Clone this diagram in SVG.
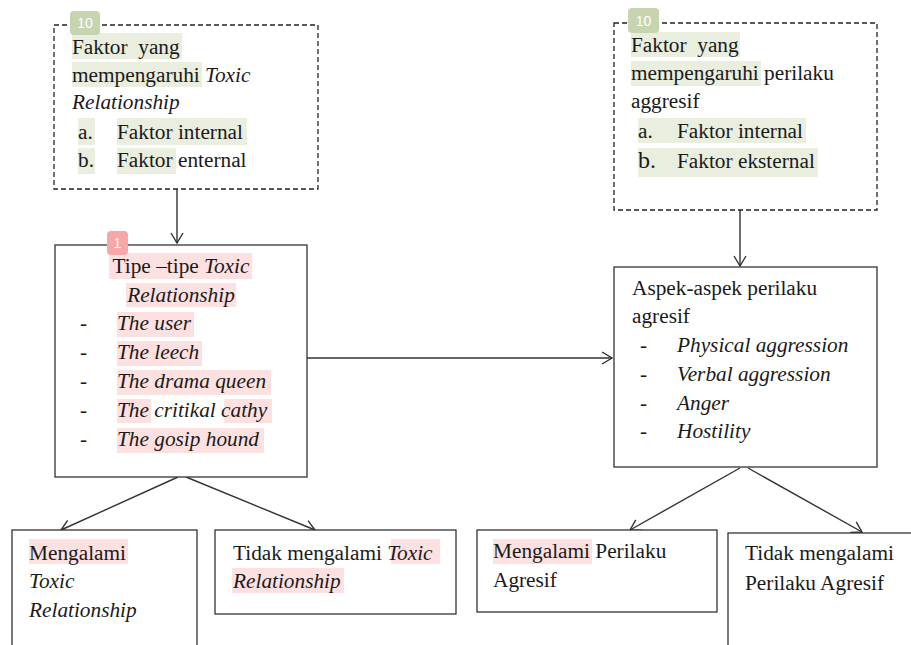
<svg xmlns="http://www.w3.org/2000/svg" width="911" height="645" viewBox="0 0 911 645">
<style>
.box{fill:#fff;stroke:#333;stroke-width:1.3}
.dash{fill:#fff;stroke:#222;stroke-width:1.3;stroke-dasharray:5 3}
.t{font-family:'Liberation Serif','Times New Roman',serif;font-size:21.3px;fill:#1a1a1a;white-space:pre}
.i{font-style:italic}
.g{fill:#e9eedf}
.p{fill:#fde1e1}
.bg{fill:#c6d5b0}
.br{fill:#f7a7a7}
.bt{font-family:'Liberation Sans',Arial,sans-serif;font-size:14px;fill:#fff}
.c{fill:none;stroke:#333;stroke-width:1.4}
</style>
<defs>
<marker id="ah" viewBox="0 0 12 14" refX="11" refY="7" markerWidth="12" markerHeight="14" markerUnits="userSpaceOnUse" orient="auto">
<path d="M1,1 L11,7 L1,13" fill="none" stroke="#333" stroke-width="1.4"/>
</marker>
</defs>
<rect width="911" height="645" fill="#fff"/>

<g id="connectors">
<line class="c" x1="177" y1="189" x2="177" y2="243" marker-end="url(#ah)"/>
<line class="c" x1="740" y1="210" x2="740" y2="266" marker-end="url(#ah)"/>
<line class="c" x1="307" y1="358" x2="612" y2="358" marker-end="url(#ah)"/>
<line class="c" x1="178" y1="477" x2="61" y2="530" marker-end="url(#ah)"/>
<line class="c" x1="186" y1="477" x2="315" y2="530" marker-end="url(#ah)"/>
<line class="c" x1="740" y1="468" x2="630" y2="530" marker-end="url(#ah)"/>
<line class="c" x1="748" y1="468" x2="862" y2="532" marker-end="url(#ah)"/>
</g>

<g id="faktor-toxic">
<rect class="dash" x="54" y="25" width="264" height="164"/>
<rect class="g" x="72" y="33" width="110" height="26"/>
<rect class="g" x="72" y="62" width="130" height="25"/>
<rect class="g" x="78" y="118" width="17" height="27"/>
<rect class="g" x="117" y="118" width="130" height="27"/>
<rect class="g" x="78" y="148" width="17" height="26"/>
<rect class="g" x="117" y="148" width="59" height="26"/>
<text class="t" x="72" y="54">Faktor  yang</text>
<text class="t" x="72" y="82">mempengaruhi <tspan class="i">Toxic</tspan></text>
<text class="t i" x="72" y="109">Relationship</text>
<text class="t" x="78" y="139">a.</text>
<text class="t" x="117" y="139">Faktor internal</text>
<text class="t" x="78" y="167">b.</text>
<text class="t" x="117" y="167">Faktor enternal</text>
<rect class="bg" x="70" y="11" width="30" height="24" rx="4"/>
<text class="bt" x="85" y="28" text-anchor="middle">10</text>
</g>

<g id="faktor-agresif">
<rect class="dash" x="614" y="23" width="263" height="187"/>
<rect class="g" x="631" y="32" width="109" height="25"/>
<rect class="g" x="631" y="61" width="130" height="25"/>
<rect class="g" x="638" y="118" width="168" height="25"/>
<rect class="g" x="638" y="148" width="180" height="29"/>
<text class="t" x="631" y="52">Faktor  yang</text>
<text class="t" x="631" y="80">mempengaruhi perilaku</text>
<text class="t" x="631" y="108">aggresif</text>
<text class="t" x="638" y="138">a.</text>
<text class="t" x="677" y="138">Faktor internal</text>
<text class="t" x="638" y="168" style="font-size:24px">b.</text>
<text class="t" x="677" y="168">Faktor eksternal</text>
<rect class="bg" x="628" y="8" width="31" height="25" rx="4"/>
<text class="bt" x="643.500" y="26" text-anchor="middle">10</text>
</g>

<g id="tipe-toxic">
<rect class="box" x="55" y="245" width="252" height="232"/>
<rect class="p" x="109" y="253" width="143" height="26"/>
<rect class="p" x="126" y="283" width="110" height="24"/>
<rect class="p" x="117" y="312" width="77" height="25"/>
<rect class="p" x="117" y="341" width="85" height="25"/>
<rect class="p" x="117" y="370" width="154" height="25"/>
<rect class="p" x="117" y="399" width="34" height="24"/>
<rect class="p" x="224" y="399" width="48" height="24"/>
<rect class="p" x="117" y="428" width="147" height="25"/>
<text class="t" x="181" y="273" text-anchor="middle">Tipe –tipe <tspan class="i">Toxic</tspan></text>
<text class="t i" x="181" y="302" text-anchor="middle">Relationship</text>
<text class="t" x="80" y="330">-</text>
<text class="t i" x="117" y="330">The user</text>
<text class="t" x="80" y="359">-</text>
<text class="t i" x="117" y="359">The leech</text>
<text class="t" x="80" y="388">-</text>
<text class="t i" x="117" y="388">The drama queen</text>
<text class="t" x="80" y="417">-</text>
<text class="t i" x="117" y="417">The critikal cathy</text>
<text class="t" x="80" y="446">-</text>
<text class="t i" x="117" y="446">The gosip hound</text>
<rect class="br" x="107" y="231" width="21" height="24" rx="4"/>
<text class="bt" x="117.500" y="248" text-anchor="middle">1</text>
</g>

<g id="aspek-agresif">
<rect class="box" x="614" y="267" width="263" height="200"/>
<text class="t" x="632" y="295">Aspek-aspek perilaku</text>
<text class="t" x="632" y="323">agresif</text>
<text class="t" x="640" y="352">-</text>
<text class="t i" x="677" y="352">Physical aggression</text>
<text class="t" x="640" y="381">-</text>
<text class="t i" x="677" y="381">Verbal aggression</text>
<text class="t" x="640" y="410">-</text>
<text class="t i" x="677" y="410">Anger</text>
<text class="t" x="640" y="438">-</text>
<text class="t i" x="677" y="438">Hostility</text>
</g>

<g id="mengalami-toxic">
<rect class="box" x="12" y="530" width="185" height="200"/>
<rect class="p" x="29" y="539" width="99" height="25"/>
<text class="t" x="29" y="560">Mengalami</text>
<text class="t i" x="29" y="588">Toxic</text>
<text class="t i" x="29" y="617">Relationship</text>
</g>

<g id="tidak-toxic">
<rect class="box" x="215" y="530" width="241" height="84"/>
<rect class="p" x="391" y="539" width="49" height="25"/>
<rect class="p" x="232" y="568" width="112" height="25"/>
<text class="t" x="233" y="560">Tidak mengalami <tspan class="i">Toxic</tspan></text>
<text class="t i" x="233" y="588">Relationship</text>
</g>

<g id="mengalami-agresif">
<rect class="box" x="477" y="530" width="240" height="82"/>
<rect class="p" x="493" y="539" width="99" height="25"/>
<text class="t" x="493" y="558">Mengalami Perilaku</text>
<text class="t" x="493" y="587">Agresif</text>
</g>

<g id="tidak-agresif">
<rect class="box" x="728" y="533" width="220" height="200"/>
<text class="t" x="745" y="560">Tidak mengalami</text>
<text class="t" x="745" y="590">Perilaku Agresif</text>
</g>
</svg>
